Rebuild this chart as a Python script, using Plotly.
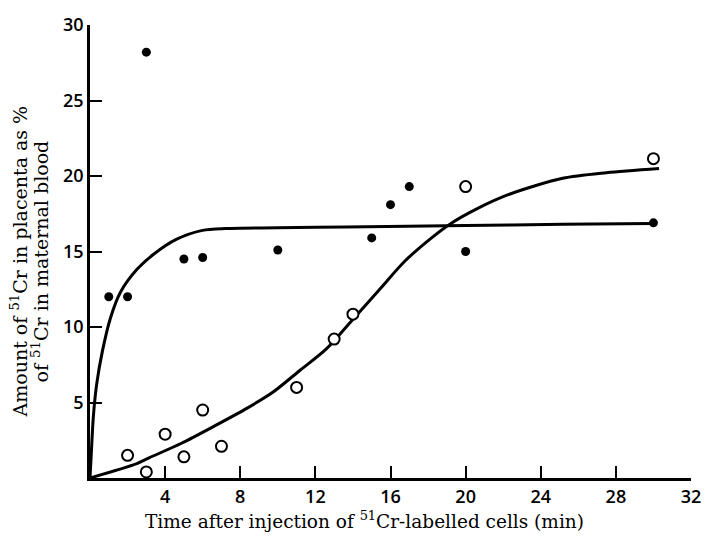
import plotly.graph_objects as go

# Data
time_filled = [1, 2, 3, 5, 6, 10, 15, 16, 17, 20, 30]
pct_filled = [12.0, 12.0, 28.2, 14.5, 14.6, 15.1, 15.9, 18.1, 19.3, 15.0, 16.9]

time_open = [2, 3, 4, 5, 6, 7, 11, 13, 14, 20, 30]
pct_open = [1.5, 0.4, 2.9, 1.4, 4.5, 2.1, 6.0, 9.2, 10.85, 19.3, 21.15]

# Fitted curves
curve_filled_x = [0, 0.08, 0.18, 0.36, 0.66, 1.09, 1.62, 2.49, 3.37, 4.59, 5.99, 7.22,
                  10, 13.6, 20, 25.2, 30]
curve_filled_y = [0, 1.9, 4.1, 6.25, 8.4, 10.6, 12.3, 13.8, 14.8, 15.8, 16.4, 16.52,
                  16.57, 16.63, 16.72, 16.8, 16.86]

curve_open_x = [0, 2.49, 3.12, 4.87, 6.62, 8.37, 9.77, 11.17, 12.57, 13.97, 15.37, 16.77,
                18.17, 19.22, 20.62, 22.37, 25.17, 27.5, 30.3]
curve_open_y = [0, 0.95, 1.32, 2.3, 3.44, 4.63, 5.71, 7.12, 8.53, 10.47, 12.42, 14.37,
                15.89, 16.86, 17.84, 18.81, 19.85, 20.22, 20.5]

x_ticks = [4, 8, 12, 16, 20, 24, 28, 32]
y_ticks = [5, 10, 15, 20, 25, 30]

SERIF = "DejaVu Serif"
SANS = "Open Sans"

fig = go.Figure()
fig.add_trace(go.Scatter(x=curve_filled_x, y=curve_filled_y, mode="lines",
                         line=dict(color="black", width=3, shape="spline", smoothing=0.8),
                         hoverinfo="skip", showlegend=False))
fig.add_trace(go.Scatter(x=curve_open_x, y=curve_open_y, mode="lines",
                         line=dict(color="black", width=3, shape="spline", smoothing=0.8),
                         hoverinfo="skip", showlegend=False))
fig.add_trace(go.Scatter(x=time_filled, y=pct_filled, mode="markers",
                         marker=dict(symbol="circle", size=9, color="black"),
                         cliponaxis=False, showlegend=False))
fig.add_trace(go.Scatter(x=time_open, y=pct_open, mode="markers",
                         marker=dict(symbol="circle", size=11, color="white",
                                     line=dict(color="black", width=2)),
                         cliponaxis=False, showlegend=False))

axis_common = dict(showgrid=False, zeroline=False, showline=True, linecolor="black",
                   linewidth=2.5, ticks="inside", ticklen=12, tickwidth=2, tickcolor="black",
                   tickfont=dict(family=SANS, size=18, color="black", weight=600))

fig.update_xaxes(range=[0, 32], tickvals=x_ticks, ticktext=[str(v) for v in x_ticks],
                 ticklabelstandoff=1, **axis_common)
fig.update_yaxes(range=[0, 30], tickvals=y_ticks, ticktext=[str(v) for v in y_ticks], **axis_common)

annotations = [
    dict(text="Amount of <sup>51</sup>Cr in placenta as %", xref="paper", yref="paper",
         x=0, y=0.478, xanchor="center", yanchor="middle", xshift=-71, textangle=-90,
         showarrow=False, font=dict(family=SERIF, size=19, color="black")),
    dict(text="of <sup>51</sup>Cr in maternal blood", xref="paper", yref="paper",
         x=0, y=0.478, xanchor="center", yanchor="middle", xshift=-50, textangle=-90,
         showarrow=False, font=dict(family=SERIF, size=19, color="black")),
    dict(text="Time after injection of <sup>51</sup>Cr-labelled cells (min)", xref="paper", yref="paper",
         x=0.457, y=-0.093, xanchor="center", yanchor="middle",
         showarrow=False, font=dict(family=SERIF, size=18.5, color="black")),
]

fig.update_layout(width=713, height=539, margin=dict(l=90, r=13, t=16, b=61),
                  paper_bgcolor="white", plot_bgcolor="white", annotations=annotations)

fig.write_html("out.html")
